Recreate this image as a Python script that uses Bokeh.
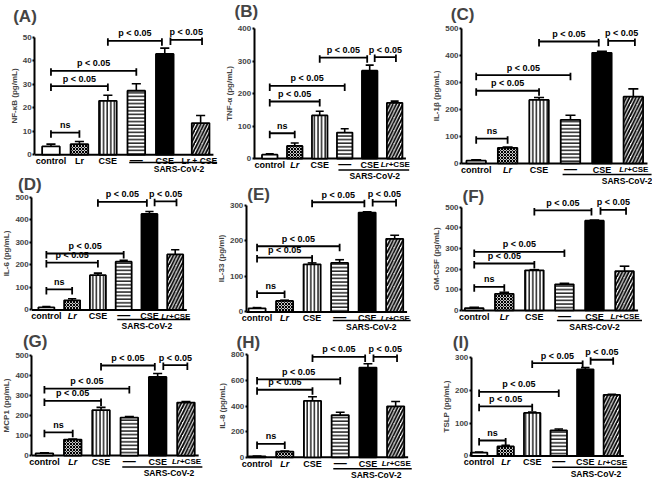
from bokeh.plotting import figure
from bokeh.layouts import row, column
from bokeh.models import ColumnDataSource, Label, FixedTicker, Range1d, LinearAxis
from bokeh.core.properties import value
from bokeh.embed import file_html
from bokeh.resources import INLINE

FONT = "Liberation Sans"

# ---------------- data ----------------
groups = ["control", "Lr", "CSE", "\u2014", "CSE", "Lr+CSE"]
group_label = "SARS-CoV-2"
bracket_text = ["ns", "p < 0.05", "p < 0.05", "p < 0.05", "p < 0.05"]

panel_letters = ["(A)", "(B)", "(C)", "(D)", "(E)", "(F)", "(G)", "(H)", "(I)"]
y_titles = ["NF-\u03baB (pg/mL)", "TNF-\u03b1 (pg/mL)", "IL-1\u03b2 (pg/mL)",
            "IL-6 (pg/mL)", "IL-33 (pg/ml)", "GM-CSF (pg/mL)",
            "MCP1 (pg/mL)", "IL-8 (pg/mL)", "TSLP (pg/mL)"]
y_max = [50, 400, 500, 500, 300, 500, 500, 800, 300]
y_step = [10, 100, 100, 100, 100, 100, 100, 200, 100]

nfkb_mean = [3.5, 4.5, 23, 27.3, 43, 13.5]
nfkb_err = [1.0, 1.1, 2.4, 3.0, 2.5, 3.2]
nfkb_brk = [9.4, 29.3, 35.8, 48.6, 49]

tnf_mean = [12, 39, 133, 80, 271, 172]
tnf_err = [3, 9, 13, 12, 17, 5]
tnf_brk = [78, 176, 224, 311, 313]

il1b_mean = [10, 58, 236, 162, 411, 248]
il1b_err = [3, 3, 9, 17, 6, 29]
il1b_brk = [92, 270, 328, 453, 455]

il6_mean = [12, 43, 154, 214, 425, 246]
il6_err = [3, 7, 9, 6, 11, 21]
il6_brk = [91, 210, 250, 479, 481]

il33_mean = [10, 31, 134, 138, 280, 206]
il33_err = [2, 2, 4, 9, 2, 10]
il33_brk = [53, 153, 185, 309, 311]

gmcsf_mean = [11, 80, 194, 126, 434, 190]
gmcsf_err = [4, 8, 3, 5, 3, 24]
gmcsf_brk = [114, 227, 283, 484, 487]

mcp1_mean = [11, 80, 227, 190, 393, 265]
mcp1_err = [3, 3, 14, 5, 17, 5]
mcp1_brk = [116, 273, 335, 450, 452]

il8_mean = [7, 45, 441, 330, 700, 398]
il8_err = [3, 5, 31, 22, 30, 38]
il8_brk = [105, 527, 608, 783, 783]

tslp_mean = [10, 29, 131, 78, 264, 186]
tslp_err = [2, 3, 3, 4, 5, 2]
tslp_brk = [47, 151, 195, 283, 293]

means = [nfkb_mean, tnf_mean, il1b_mean, il6_mean, il33_mean, gmcsf_mean, mcp1_mean, il8_mean, tslp_mean]
errs = [nfkb_err, tnf_err, il1b_err, il6_err, il33_err, gmcsf_err, mcp1_err, il8_err, tslp_err]
brks = [nfkb_brk, tnf_brk, il1b_brk, il6_brk, il33_brk, gmcsf_brk, mcp1_brk, il8_brk, tslp_brk]
lr_italic = [False, True, True, True, True, True, True, True, True]

# ---------------- layout / style ----------------
sx = 652 / 668
sy = 481 / 497
col_x = [0, 223.5, 432, 668]
col_rows = [[0, 180, 342.5, 497], [0, 188, 343, 497], [0, 192, 343.5, 497]]
# reference geometry: axis x, 1st bar x, 5th bar x, slot of 6th bar, top tick y, zero y,
# title x, title y, group-label centre slot
geoms = [
    (35, 51.7, 168.3, 6.26, 38.3, 159.3, 13, 7, 5.5),
    (260, 276, 378.4, 6.0, 29.3, 163.3, 240, 2, 5.2),
    (472, 487, 615.8, 6.0, 29.3, 168.3, 461, 5, 5.8),
    (32, 47, 152.6, 6.0, 203.3, 320, 18, 181, 4.9),
    (252, 263, 375.8, 6.0, 211.7, 321.7, 253, 191, 5.15),
    (472, 485, 608.2, 6.0, 213.3, 320, 473, 193, 5.0),
    (32, 45, 161, 6.0, 367.3, 470.7, 23, 343, 5.4),
    (253, 263, 376.6, 6.0, 366.0, 472.0, 242, 344, 5.3),
    (482, 490, 598.8, 6.0, 369.3, 471, 463, 344, 5.4),
]
fills = ["white", "#c8c8c8", "white", "white", "black", "white"]
hatches = ["blank", "diagonal_cross", "vertical_line", "horizontal_line", "blank", "right_diagonal_line"]
hscale = [4, 3.0, 3.6, 3.6, 4, 6.5]
hweight = [1, 1, 1.3, 1.3, 1, 1.8]


def txt(p, x, y, t, size="9px", style="bold", align="center", baseline="middle", xoff=0):
    p.text(x=x, y=y, text=t, text_font=value(FONT), text_font_size=size,
           text_font_style=style, text_align=align, text_baseline=baseline,
           x_offset=xoff, text_color="black")


def build(i):
    c, r = i % 3, i // 3
    ax_x, b1, b5, x6, ytop, yzero, tx, ty, gx = geoms[i]
    xb = [round(v * sx) for v in col_x]
    W = xb[c + 1] - xb[c]
    yb = [round(v * sy) for v in col_rows[c]]
    H = yb[r + 1] - yb[r]
    X0 = col_x[c]
    Y0 = col_rows[c][r]
    p1 = (b1 - X0) * sx
    sp = (b5 - b1) * sx / 4
    xs = 1 - p1 / sp
    xe = xs + W / sp
    xax = xs + (ax_x - X0) * sx / sp
    pt = (ytop - Y0) * sy
    pz = (yzero - Y0) * sy
    ym = y_max[i]
    upp = ym / (pz - pt)
    ye = ym + pt * upp
    ys = -(H - pz) * upp

    p = figure(width=W, height=H, x_range=Range1d(xs, xe), y_range=Range1d(ys, ye),
               output_backend="svg", toolbar_location=None, x_axis_location=None,
               y_axis_location=None, min_border=0, outline_line_color=None)
    p.grid.visible = False

    ax = LinearAxis(fixed_location=xax, bounds=(0, ym),
                    ticker=FixedTicker(ticks=list(range(0, ym + 1, y_step[i]))))
    ax.axis_line_width = 2
    ax.major_tick_line_width = 2
    ax.major_tick_out = 2
    ax.major_tick_in = 0
    ax.minor_tick_out = 0
    ax.minor_tick_in = 0
    ax.major_label_text_font = FONT
    ax.major_label_text_font_size = "8px"
    ax.major_label_text_font_style = "bold"
    ax.major_label_standoff = 1
    ax.axis_label = y_titles[i]
    ax.axis_label_text_font = FONT
    ax.axis_label_text_font_size = "8px"
    ax.axis_label_text_font_style = "bold"
    ax.axis_label_standoff = 1
    p.add_layout(ax, "left")

    xsL = [1, 2, 3, 4, 5, x6]
    src = ColumnDataSource(dict(x=xsL, top=means[i], fill=fills, hatch=hatches,
                                hs=hscale, hw=hweight))
    # baseline
    p.segment(x0=[xax], y0=[0], x1=[x6 + 0.45], y1=[0], line_color="black", line_width=2)
    # error bars
    tops = [m + e for m, e in zip(means[i], errs[i])]
    p.segment(x0=xsL, y0=means[i], x1=xsL, y1=tops, line_color="black", line_width=1.6)
    p.segment(x0=[x - 0.16 for x in xsL], y0=tops, x1=[x + 0.16 for x in xsL], y1=tops,
              line_color="black", line_width=1.6)
    p.vbar(x="x", top="top", bottom=0, width=0.62, source=src, fill_color="fill",
           hatch_pattern="hatch", hatch_scale="hs", hatch_weight="hw", hatch_color="black",
           line_color="black", line_width=1.8)

    # significance brackets
    bx = [(1.0, 2.0), (1.0, 3.0), (1.0, 4.0), (3.0, 4.9), (5.2, x6 + 0.05)]
    for (a, b), h, t in zip(bx, brks[i], bracket_text):
        p.segment(x0=[a], y0=[h], x1=[b], y1=[h], line_color="black", line_width=1.8)
        p.segment(x0=[a, b], y0=[h - 5 * upp] * 2, x1=[a, b], y1=[h + 2.5 * upp] * 2,
                  line_color="black", line_width=1.8)
        txt(p, [(a + b) / 2], [h + 2.5 * upp], [t], size="9px", baseline="bottom")

    # category labels
    ly = -6.5 * sy * upp
    txt(p, [1, 3, 5], [ly] * 3, [groups[0], groups[2], groups[4]])
    txt(p, [4], [-5.0 * sy * upp], [groups[3]], size="13px")
    if lr_italic[i]:
        txt(p, [2], [ly], ["Lr"], style="bold italic")
        txt(p, [x6], [ly], ["Lr"], size="8px", style="bold italic", align="right", xoff=-6)
        txt(p, [x6], [ly], ["+CSE"], size="8px", align="left", xoff=-6)
    else:
        txt(p, [2], [ly], ["Lr"])
        txt(p, [x6], [ly], ["Lr + CSE"], size="8.5px", align="right", xoff=16.5)
    # group underline and label
    gpx = min(pz + 18.5 * sy, H - 5.5)
    upx = min(pz + 12.5 * sy, gpx - 6.5)
    p.segment(x0=[3.75], y0=[-(upx - pz) * upp], x1=[x6 + 0.58], y1=[-(upx - pz) * upp],
              line_color="black", line_width=1.6)
    txt(p, [gx], [-(gpx - pz) * upp], [group_label], size="8.5px")

    # panel letter
    lx = xs + (tx - X0) * sx / sp
    lyy = ye - max((ty - Y0) * sy, 0.5) * upp
    p.add_layout(Label(x=lx, y=lyy, text=panel_letters[i], text_font=FONT,
                       text_font_size="17px", text_font_style="bold",
                       text_baseline="top", text_align="left"))
    return p


figs = [build(i) for i in range(9)]
layout = row(column(figs[0], figs[3], figs[6]),
             column(figs[1], figs[4], figs[7]),
             column(figs[2], figs[5], figs[8]))
open("out.html", "w").write(file_html(layout, INLINE))
